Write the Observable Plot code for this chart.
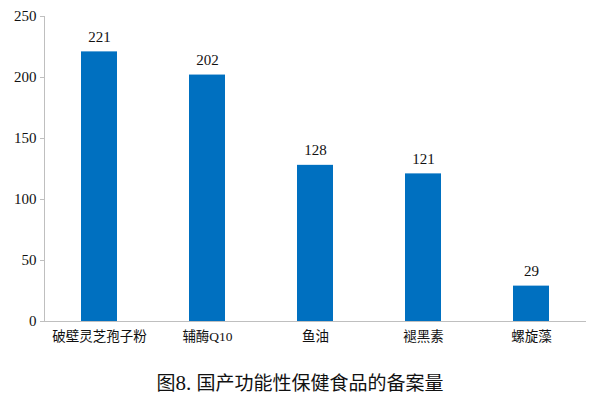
<!DOCTYPE html>
<html>
<head>
<meta charset="utf-8">
<script src="https://cdn.jsdelivr.net/npm/d3@7"></script>
<script src="https://cdn.jsdelivr.net/npm/@observablehq/plot@0.6"></script>
<style>
  body { margin: 0; background: #fff; }
  #wrap { width: 600px; }
  #caption { text-align: center; font-family: "Noto Sans CJK SC", "Liberation Serif", serif; font-size: 19px; color: #111; margin-top: 8px; }
  #caption .num { font-family: "Liberation Serif", serif; font-size: 21px; }
  #chart svg text { font-family: "Liberation Serif", "Noto Sans CJK SC", serif !important; }
</style>
</head>
<body>
<div id="wrap">
  <div id="chart"></div>
  <div id="caption">图<span class="num">8. </span>国产功能性保健食品的备案量</div>
</div>
<script>
const categories = ["破壁灵芝孢子粉", "辅酶Q10", "鱼油", "褪黑素", "螺旋藻"];
const values = [221, 202, 128, 121, 29];
const yTicks = [0, 50, 100, 150, 200, 250];

const data = categories.map((c, i) => ({ name: c, value: values[i] }));
const serif = "'Liberation Serif', 'Noto Sans CJK SC', serif";

const chart = Plot.plot({
  width: 600,
  height: 360,
  marginTop: 16,
  marginBottom: 39,
  marginLeft: 44,
  marginRight: 14,
  style: { fontFamily: serif, fontSize: "14px", color: "#111", background: "#fff" },
  x: { domain: categories, paddingInner: 0.67, paddingOuter: 0.335, label: null, tickSize: 0 },
  y: { domain: [0, 250], ticks: yTicks, label: null, tickSize: 4 },
  marks: [
    Plot.barY(data, { x: "name", y: "value", fill: "#0070C0" }),
    Plot.ruleY([0], { stroke: "#bfbfbf" }),
    Plot.frame({ anchor: "left", stroke: "#bfbfbf" }),
    Plot.axisY({ ticks: yTicks, tickSize: 4, stroke: "#bfbfbf", text: null, label: null }),
    Plot.text(yTicks, { y: d => d, text: d => String(d), frameAnchor: "left", textAnchor: "end", dx: -8, fontSize: 15, fill: "#111", fontFamily: serif }),
    Plot.axisX({ tickSize: 0, tickPadding: 10, fontSize: 13.5, label: null, fontFamily: serif, fill: "#111" }),
    Plot.text(data, { x: "name", y: "value", text: d => String(d.value), dy: -15, fontSize: 15, fill: "#111", fontFamily: serif })
  ]
});
document.getElementById("chart").appendChild(chart);
</script>
</body>
</html>
